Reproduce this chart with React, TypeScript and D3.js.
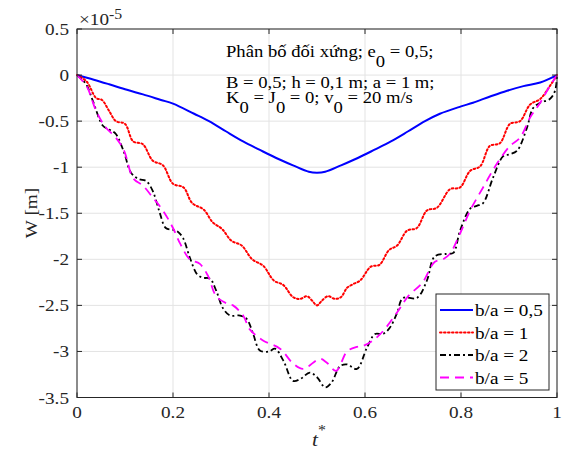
import React from "react";
import * as d3 from "d3";

const xTicks = [0, 0.2, 0.4, 0.6, 0.8, 1];
const xTickLabels = ["0", "0.2", "0.4", "0.6", "0.8", "1"];
const yTicks = [0.5, 0, -0.5, -1, -1.5, -2, -2.5, -3, -3.5];
const yTickLabels = ["0.5", "0", "-0.5", "-1", "-1.5", "-2", "-2.5", "-3", "-3.5"];

const seriesNames = ["b/a = 0,5", "b/a = 1", "b/a = 2", "b/a = 5"];

const blueT = [0, 0.035, 0.067, 0.104, 0.1375, 0.175, 0.2, 0.244, 0.275, 0.31, 0.346, 0.38, 0.415, 0.45, 0.483, 0.5, 0.517, 0.55, 0.585, 0.62, 0.654, 0.69, 0.725, 0.756, 0.8, 0.825, 0.862, 0.896, 0.93, 0.965, 1];
const blueW = [0, -0.05, -0.1, -0.16, -0.21, -0.27, -0.31, -0.42, -0.5, -0.61, -0.72, -0.81, -0.9, -0.98, -1.05, -1.06, -1.05, -0.98, -0.9, -0.81, -0.72, -0.61, -0.5, -0.42, -0.34, -0.3, -0.23, -0.17, -0.12, -0.08, 0];

const redT = [0, 0.02, 0.04, 0.052, 0.067, 0.081, 0.1, 0.117, 0.137, 0.158, 0.179, 0.2, 0.222, 0.24, 0.264, 0.283, 0.302, 0.322, 0.343, 0.365, 0.388, 0.41, 0.43, 0.45, 0.465, 0.479, 0.49, 0.5, 0.51, 0.523, 0.537, 0.55, 0.5625, 0.575, 0.59, 0.612, 0.63, 0.65, 0.667, 0.6875, 0.708, 0.729, 0.75, 0.777, 0.798, 0.819, 0.84, 0.86, 0.881, 0.902, 0.923, 0.944, 0.965, 0.985, 1];
const redW = [0, -0.07, -0.25, -0.27, -0.39, -0.5, -0.53, -0.72, -0.75, -0.93, -0.98, -1.18, -1.22, -1.39, -1.46, -1.6, -1.67, -1.8, -1.85, -2.0, -2.07, -2.23, -2.28, -2.41, -2.43, -2.4, -2.45, -2.5, -2.45, -2.4, -2.43, -2.41, -2.31, -2.27, -2.23, -2.08, -2.06, -1.9, -1.85, -1.69, -1.66, -1.47, -1.44, -1.24, -1.22, -1.04, -0.99, -0.77, -0.74, -0.53, -0.5, -0.32, -0.26, -0.12, 0];

const blackT = [0, 0.019, 0.033, 0.054, 0.067, 0.081, 0.098, 0.1125, 0.129, 0.144, 0.158, 0.171, 0.185, 0.2, 0.21, 0.221, 0.235, 0.25, 0.2625, 0.277, 0.29, 0.304, 0.319, 0.34, 0.354, 0.367, 0.381, 0.4, 0.4125, 0.43, 0.45, 0.465, 0.485, 0.5, 0.517, 0.53, 0.548, 0.5625, 0.583, 0.604, 0.621, 0.6375, 0.652, 0.667, 0.679, 0.708, 0.729, 0.745, 0.77, 0.784, 0.798, 0.819, 0.833, 0.846, 0.867, 0.888, 0.902, 0.917, 0.9375, 0.95, 0.965, 0.985, 0.996, 1];
const blackW = [0, -0.1, -0.28, -0.55, -0.59, -0.64, -0.84, -1.06, -1.13, -1.15, -1.26, -1.47, -1.66, -1.68, -1.7, -1.77, -1.98, -2.16, -2.2, -2.21, -2.34, -2.53, -2.61, -2.61, -2.65, -2.81, -2.99, -3.0, -2.97, -3.1, -3.32, -3.3, -3.23, -3.28, -3.39, -3.34, -3.16, -3.14, -3.19, -2.96, -2.81, -2.81, -2.74, -2.58, -2.42, -2.42, -2.23, -1.97, -1.94, -1.93, -1.69, -1.45, -1.42, -1.39, -1.11, -0.88, -0.86, -0.82, -0.57, -0.36, -0.3, -0.26, -0.17, 0];

const magT = [0, 0.02, 0.04, 0.06, 0.081, 0.098, 0.117, 0.1375, 0.158, 0.179, 0.2, 0.215, 0.235, 0.256, 0.273, 0.29, 0.3125, 0.325, 0.346, 0.36, 0.3875, 0.423, 0.45, 0.471, 0.506, 0.52, 0.54, 0.5625, 0.583, 0.596, 0.617, 0.6375, 0.669, 0.69, 0.72, 0.745, 0.7625, 0.777, 0.798, 0.819, 0.846, 0.875, 0.902, 0.923, 0.944, 0.965, 0.985, 1];
const magW = [0, -0.12, -0.39, -0.57, -0.68, -0.82, -1.12, -1.2, -1.33, -1.47, -1.66, -1.83, -2.0, -2.05, -2.18, -2.4, -2.48, -2.5, -2.61, -2.76, -2.88, -2.97, -3.13, -3.19, -3.08, -3.12, -3.21, -3.0, -2.95, -2.94, -2.88, -2.78, -2.56, -2.4, -2.25, -2.03, -2.0, -1.94, -1.72, -1.47, -1.22, -0.96, -0.77, -0.68, -0.46, -0.3, -0.12, 0];

const W = 567;
const H = 458;
const FONT = "Liberation Serif, Times New Roman, serif";
const SX = 1.13;
const TXT = "#262626";
const SUB = 10;

function T({ x, y, size = 17, anchor = "start", italic = false, children, rotate = 0, fill = TXT }: any) {
  return (
    <text
      transform={`translate(${x},${y}) rotate(${rotate}) scale(${SX},1)`}
      style={{ fontFamily: FONT, fontSize: size, fontStyle: italic ? "italic" : "normal" }}
      textAnchor={anchor}
      fill={fill}
    >
      {children}
    </text>
  );
}

export default function App() {
  const x = d3.scaleLinear().domain([0, 1]).range([77, 557]);
  const y = d3.scaleLinear().domain([-3.5, 0.5]).range([397.5, 29]);
  const line = d3
    .line<[number, number]>()
    .x((d) => x(d[0]))
    .y((d) => y(d[1]))
    .curve(d3.curveCatmullRom.alpha(0.5));

  const zip = (a: number[], b: number[]) => a.map((t, i) => [t, b[i]] as [number, number]);
  const series = [
    { d: zip(blueT, blueW), color: "#0000ff", dash: "none", width: 2 },
    { d: zip(redT, redW), color: "#ff0000", dash: "1.6 2.4", width: 2 },
    { d: zip(blackT, blackW), color: "#000000", dash: "6 3 2 3", width: 1.8 },
    { d: zip(magT, magW), color: "#ff00ff", dash: "9 6", width: 1.8 },
  ];

  const [x0, x1] = x.range();
  const [y0, y1] = [y(0.5), y(-3.5)];
  const tl = 5;

  const legX = 436, legY = 294, legW = 113, legH = 96;

  return (
    <svg width={W} height={H} style={{ position: "absolute", left: 0, top: 0, background: "#fff" }}>
      <rect x={0} y={0} width={W} height={H} fill="#fff" />
      <defs>
        <clipPath id="clip">
          <rect x={x0 - 2} y={y0} width={x1 - x0 + 4} height={y1 - y0} />
        </clipPath>
      </defs>
      {xTicks.map((t, i) => (
        <line key={"gx" + i} x1={x(t)} x2={x(t)} y1={y0} y2={y1} stroke="#e3e3e3" strokeWidth={1} />
      ))}
      {yTicks.map((t, i) => (
        <line key={"gy" + i} x1={x0} x2={x1} y1={y(t)} y2={y(t)} stroke="#e3e3e3" strokeWidth={1} />
      ))}
      <g clipPath="url(#clip)">
        {series.map((s, i) => (
          <path
            key={i}
            d={line(s.d) || ""}
            fill="none"
            stroke={s.color}
            strokeWidth={s.width}
            strokeDasharray={s.dash}
            strokeLinecap={i === 1 ? "round" : "butt"}
          />
        ))}
      </g>
      <rect x={x0} y={y0} width={x1 - x0} height={y1 - y0} fill="none" stroke={TXT} strokeWidth={1} />
      {xTicks.map((t, i) => (
        <g key={"tx" + i}>
          <line x1={x(t)} x2={x(t)} y1={y1} y2={y1 - tl} stroke={TXT} />
          <line x1={x(t)} x2={x(t)} y1={y0} y2={y0 + tl} stroke={TXT} />
          <T x={x(t)} y={y1 + 20} anchor="middle">{xTickLabels[i]}</T>
        </g>
      ))}
      {yTicks.map((t, i) => (
        <g key={"ty" + i}>
          <line x1={x0} x2={x0 + tl} y1={y(t)} y2={y(t)} stroke={TXT} />
          <line x1={x1} x2={x1 - tl} y1={y(t)} y2={y(t)} stroke={TXT} />
          <T x={x0 - 8} y={y(t) + 6} anchor="end">{yTickLabels[i]}</T>
        </g>
      ))}
      <text transform={`translate(79,25) scale(${SX},1)`} style={{ fontFamily: FONT, fontSize: 17 }} fill={TXT}>
        ×10<tspan style={{ fontSize: 14 }} dy={-6}>-5</tspan>
      </text>
      <T x={37} y={213} rotate={-90} anchor="middle">W [m]</T>
      <text transform={`translate(312,446) scale(${SX},1)`} style={{ fontFamily: FONT, fontSize: 19, fontStyle: "italic" }} fill={TXT}>
        t<tspan style={{ fontSize: 14, fontStyle: "normal" }} dy={-11}>*</tspan>
      </text>
      <g style={{ fontFamily: FONT, fontSize: 16.5 }} fill="#000">
        <text transform={`translate(226,57) scale(${SX},1)`}>
          Phân bố đối xứng; e<tspan dy={SUB}>0</tspan><tspan dy={-SUB}> = 0,5;</tspan>
        </text>
        <text transform={`translate(226,88) scale(${SX},1)`}>
          B = 0,5; h = 0,1 m; a = 1 m;
        </text>
        <text transform={`translate(226,103) scale(${SX},1)`}>
          K<tspan dy={SUB}>0</tspan><tspan dy={-SUB}> = J</tspan><tspan dy={SUB}>0</tspan><tspan dy={-SUB}> = 0; v</tspan><tspan dy={SUB}>0</tspan><tspan dy={-SUB}> = 20 m/s</tspan>
        </text>
      </g>
      <rect x={legX} y={legY} width={legW} height={legH} fill="#fff" stroke={TXT} strokeWidth={1} />
      {series.map((s, i) => {
        const ly = legY + 16 + i * 22.5;
        return (
          <g key={"lg" + i}>
            <line x1={440} x2={473} y1={ly} y2={ly} stroke={s.color} strokeWidth={s.width} strokeDasharray={s.dash} strokeLinecap={i === 1 ? "round" : "butt"} />
            <T x={475} y={ly + 6} fill="#000">{seriesNames[i]}</T>
          </g>
        );
      })}
    </svg>
  );
}
